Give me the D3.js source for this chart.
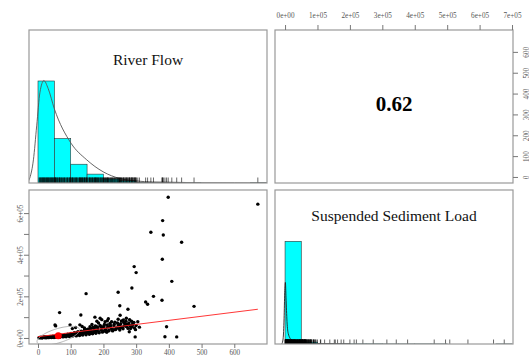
<!DOCTYPE html>
<html>
<head>
<meta charset="utf-8">
<script src="https://cdn.jsdelivr.net/npm/d3@7"></script>
<style>
  body { margin: 0; background: #fff; }
  text { font-family: "Liberation Serif", "Times New Roman", serif; }
</style>
</head>
<body>
<script>
// values
const flowBreaks = [0, 50, 100, 150, 200, 250, 300, 350, 400, 450, 500, 550, 600, 650, 700];
const flowHeights = [100, 43.6, 18.4, 8.7, 4, 2.2, 0.5, 0.4, 0.4, 0.2, 0, 0, 0, 0.2];
const loadBreaks = [0, 50000, 100000, 150000, 200000, 250000, 300000, 350000, 400000, 450000, 500000, 550000, 600000, 650000, 700000];
const loadHeights = [100, 1.8, 0.4, 0.3, 0.2, 0.2, 0.1, 0.1, 0.1, 0.1, 0, 0, 0, 0.1];

const flowDensX = [-35, -25, -14, -4, 6, 18, 31, 50, 101, 149, 199, 250, 301, 350, 400, 450, 500, 600, 700];
const flowDensY = [0, 5, 22.7, 56, 89, 100.4, 92.7, 72.7, 39, 22.7, 11, 4.4, 2, 1, 0.8, 0.5, 0.3, 0.2, 0.1];
const loadDensX = [-10000, -6000, -3000, -1000, 1000, 3000, 6000, 10000, 20000, 40000, 80000, 150000];
const loadDensY = [0, 5, 25, 50, 60, 45, 22, 10, 4, 1.5, 0.5, 0.1];

// [river flow, suspended sediment load]
const obs = [
    [398, 676000], [672, 643000], [381, 564000], [345, 508000], [383, 495000], [439, 460000],
    [380, 378000], [294, 343000], [300, 314000], [409, 272000], [287, 240000], [245, 220000],
    [147, 213000], [353, 200000], [329, 173000], [335, 162000], [379, 181000], [250, 155000],
    [477, 152000], [275, 138000], [66, 122000], [131, 110000], [251, 109000], [393, 54000],
    [297, 5000], [388, 6000], [424, 5000], [54, 58000], [174, 100000], [190, 95000],
    [212, 83000], [225, 78000], [180, 80000], [261, 87000], [269, 80000], [286, 80000],
    [251, 63000], [279, 30000], [98, 63000], [128, 63000], [159, 54000], [200, 54000],
    [220, 54000], [230, 40000], [210, 30000],
    [3, 1000], [6, 1500], [8, 800], [10, 2000], [12, 1200], [14, 2500], [16, 1800], [18, 3000],
    [20, 2200], [22, 1500], [24, 3500], [26, 2800], [28, 4000], [30, 2000], [32, 3200], [34, 4500],
    [36, 2600], [38, 5000], [40, 3800], [42, 6000], [44, 4200], [46, 3000], [48, 7000], [50, 5200],
    [52, 4000], [55, 8000], [58, 6000], [60, 4500], [62, 9000], [65, 7000], [68, 5500], [70, 10000],
    [72, 8000], [75, 12000], [78, 9500], [80, 7000], [82, 14000], [85, 11000], [88, 9000], [90, 16000],
    [92, 13000], [95, 10500], [98, 18000], [100, 14500], [103, 12000], [105, 20000], [108, 16000],
    [110, 13500], [113, 22000], [116, 18000], [118, 25000], [120, 15000], [123, 21000], [126, 28000],
    [128, 19000], [130, 24000], [133, 17000], [136, 30000], [138, 22000], [140, 26000], [143, 35000],
    [146, 20000], [148, 28000], [150, 40000], [153, 24000], [156, 32000], [158, 45000], [160, 27000],
    [163, 36000], [166, 22000], [168, 50000], [170, 30000], [173, 40000], [176, 26000], [178, 55000],
    [180, 34000], [183, 44000], [186, 30000], [190, 60000], [193, 38000], [196, 48000], [200, 32000],
    [203, 65000], [206, 42000], [210, 28000], [213, 52000], [216, 36000], [220, 70000], [224, 45000],
    [228, 34000], [232, 58000], [236, 40000], [240, 48000], [245, 62000], [250, 38000], [255, 50000],
    [260, 44000], [265, 70000], [270, 55000], [275, 46000], [280, 60000], [285, 52000], [290, 65000],
    [295, 48000], [52, 62000], [105, 45000], [115, 50000], [135, 55000], [142, 48000], [165, 65000],
    [175, 58000], [185, 72000], [195, 88000], [205, 78000], [215, 92000], [235, 76000], [245, 90000],
    [255, 82000], [262, 75000], [270, 95000], [280, 88000], [290, 70000], [300, 60000], [310, 52000],
    [5, 3000], [9, 4000], [13, 500], [17, 4500], [21, 5500], [25, 1000], [29, 6500], [33, 1500],
    [37, 7500], [41, 2000], [45, 8500], [49, 2500], [53, 10000], [57, 3000], [61, 11000], [66, 3500],
    [71, 13000], [76, 5000], [81, 15000], [86, 6000], [91, 18000], [96, 7000], [101, 22000], [106, 9000],
    [111, 25000], [117, 10000], [122, 30000], [127, 12000], [132, 33000], [137, 14000], [142, 38000],
    [147, 15000], [152, 42000], [157, 18000], [162, 46000], [167, 20000], [172, 48000], [177, 23000],
    [182, 52000], [187, 25000], [192, 55000], [197, 28000], [202, 58000], [207, 32000], [212, 62000],
    [217, 35000], [222, 60000], [227, 38000], [233, 66000], [238, 42000], [243, 72000], [248, 46000],
    [253, 68000], [258, 50000], [263, 58000], [268, 62000], [273, 66000], [278, 72000], [283, 45000],
    [288, 58000], [293, 75000], [298, 40000], [305, 78000]
];

const meanFlow = 62, meanLoad = 11000, sdFlow = 65, sdLoad = 45000, corr = 0.62;
const fitFlow = [0, 672], fitLoad = [6000, 138000];

const flowTicks = [0, 100, 200, 300, 400, 500, 600];
const loadTicksTop = [0, 100000, 200000, 300000, 400000, 500000, 600000, 700000];
const loadTicksLeft = [0, 100000, 200000, 300000, 400000, 500000, 600000];

const colL = [29, 267], colR = [275, 513], rowT = [30, 183], rowB = [190, 344];

let svg = d3.select("body").append("svg").attr("width", 529).attr("height", 356);

let xFlow = d3.scaleLinear().domain([-27.5, 700]).range(colL);
let xLoad = d3.scaleLinear().domain([-31000, 703000]).range(colR);
let yFlow = d3.scaleLinear().domain([-29, 705]).range([rowT[1], rowT[0]]);
let yLoad = d3.scaleLinear().domain([-29000, 711000]).range([rowB[1], rowB[0]]);
let yHistT = d3.scaleLinear().domain([0, 150]).range([rowT[1], rowT[0]]);
let yHistB = d3.scaleLinear().domain([0, 150]).range([rowB[1], rowB[0]]);

function sci(n) {
    if (n === 0) return "0e+00";
    let e = Math.floor(Math.log10(n));
    return Math.round(n / Math.pow(10, e)) + "e+" + String(e).padStart(2, "0");
}

let defs = svg.append("defs");
function panel(id, cols, rows) {
    defs.append("clipPath").attr("id", id)
        .append("rect")
        .attr("x", cols[0]).attr("y", rows[0])
        .attr("width", cols[1] - cols[0]).attr("height", rows[1] - rows[0]);
    return svg.append("g").attr("clip-path", `url(#${id})`);
}
function box(cols, rows) {
    svg.append("rect")
        .attr("x", cols[0]).attr("y", rows[0])
        .attr("width", cols[1] - cols[0]).attr("height", rows[1] - rows[0])
        .attr("fill", "none").attr("stroke", "#999").attr("stroke-width", 1.2);
}

function hist(g, breaks, heights, x, y) {
    let bins = heights.map((h, i) => ({ x0: breaks[i], x1: breaks[i + 1], h: h })).filter(d => d.h > 0);
    g.selectAll("rect.bar").data(bins).join("rect")
        .attr("class", "bar")
        .attr("x", d => x(d.x0))
        .attr("width", d => x(d.x1) - x(d.x0))
        .attr("y", d => y(d.h))
        .attr("height", d => y(0) - y(d.h))
        .attr("fill", "#00ffff")
        .attr("stroke", "#333")
        .attr("stroke-width", 0.6);
}
function dens(g, xs, ys, x, y, col) {
    g.append("path")
        .datum(xs.map((v, i) => [v, ys[i]]))
        .attr("d", d3.line().x(d => x(d[0])).y(d => y(d[1])).curve(d3.curveMonotoneX))
        .attr("fill", "none").attr("stroke", col).attr("stroke-width", 0.9);
}
function rug(g, vals, x, y0, len) {
    g.selectAll("line.rug").data(vals).join("line")
        .attr("class", "rug")
        .attr("x1", d => x(d)).attr("x2", d => x(d))
        .attr("y1", y0).attr("y2", y0 - len)
        .attr("stroke", "#000").attr("stroke-width", 0.6);
}

// top left: river flow histogram
let pTL = panel("cTL", colL, rowT);
hist(pTL, flowBreaks, flowHeights, xFlow, yHistT);
dens(pTL, flowDensX, flowDensY, xFlow, yHistT, "#555");
rug(pTL, obs.map(d => d[0]), xFlow, rowT[1], 5.5);
svg.append("text").attr("x", (colL[0] + colL[1]) / 2).attr("y", 65)
    .attr("text-anchor", "middle").attr("font-size", 15.5).attr("fill", "#111")
    .text("River Flow");
box(colL, rowT);

// top right: correlation
svg.append("text").attr("x", (colR[0] + colR[1]) / 2).attr("y", 111)
    .attr("text-anchor", "middle").attr("font-size", 21).attr("font-weight", "bold").attr("fill", "#000")
    .text(corr.toFixed(2));
box(colR, rowT);

// bottom right: sediment load histogram
let pBR = panel("cBR", colR, rowB);
hist(pBR, loadBreaks, loadHeights, xLoad, yHistB);
dens(pBR, loadDensX, loadDensY, xLoad, yHistB, "#222");
rug(pBR, obs.map(d => d[1]), xLoad, rowB[1], 4.5);
svg.append("text").attr("x", (colR[0] + colR[1]) / 2).attr("y", 221)
    .attr("text-anchor", "middle").attr("font-size", 15.5).attr("fill", "#111")
    .text("Suspended Sediment Load");
box(colR, rowB);

// bottom left: scatter
let pBL = panel("cBL", colL, rowB);
pBL.selectAll("circle.pt").data(obs).join("circle")
    .attr("class", "pt")
    .attr("cx", d => xFlow(d[0])).attr("cy", d => yLoad(d[1]))
    .attr("r", 1.7).attr("fill", "#000");

let ang = Math.acos(corr);
let ell = d3.range(0, 2 * Math.PI + 0.01, Math.PI / 60).map(t => [
    meanFlow + sdFlow * Math.cos(t + ang / 2),
    meanLoad + sdLoad * Math.cos(t - ang / 2)
]);
pBL.append("path").datum(ell)
    .attr("d", d3.line().x(d => xFlow(d[0])).y(d => yLoad(d[1])))
    .attr("fill", "none").attr("stroke", "#aaa").attr("stroke-width", 0.9);
pBL.append("line")
    .attr("x1", xFlow(fitFlow[0])).attr("y1", yLoad(fitLoad[0]))
    .attr("x2", xFlow(fitFlow[1])).attr("y2", yLoad(fitLoad[1]))
    .attr("stroke", "#ff2020").attr("stroke-width", 0.9);
pBL.append("circle")
    .attr("cx", xFlow(meanFlow)).attr("cy", yLoad(meanLoad))
    .attr("r", 3.5).attr("fill", "#ff0000");
box(colL, rowB);

// axes
function styleAxis(g) {
    g.select(".domain").remove();
    g.selectAll(".tick line").attr("stroke", "#777");
    g.selectAll(".tick text").attr("fill", "#555").attr("font-size", 7.2)
        .attr("font-family", "Liberation Serif, serif");
}

svg.append("g").attr("transform", `translate(0,${rowT[0]})`)
    .call(d3.axisTop(xLoad).tickValues(loadTicksTop).tickFormat(sci).tickSize(5).tickPadding(7))
    .call(styleAxis);

svg.append("g").attr("transform", `translate(0,${rowB[1]})`)
    .call(d3.axisBottom(xFlow).tickValues(flowTicks).tickFormat(d3.format("d")).tickSize(4).tickPadding(1.5))
    .call(styleAxis);

let ax4 = svg.append("g").attr("transform", `translate(${colR[1]},0)`)
    .call(d3.axisRight(yFlow).tickValues(flowTicks).tickFormat(d3.format("d")).tickSize(5))
    .call(styleAxis);
ax4.selectAll(".tick text")
    .attr("transform", "rotate(-90)")
    .attr("x", 0).attr("dy", null).attr("y", 15.5)
    .attr("text-anchor", "middle");

let ax2 = svg.append("g").attr("transform", `translate(${colL[0]},0)`)
    .call(d3.axisLeft(yLoad).tickValues(loadTicksLeft).tickFormat(d => (d / 100000) % 2 === 0 ? sci(d) : "").tickSize(5))
    .call(styleAxis);
ax2.selectAll(".tick text")
    .attr("transform", "rotate(-90)")
    .attr("x", 0).attr("dy", null).attr("y", -6.5)
    .attr("text-anchor", "middle");
</script>
</body>
</html>
